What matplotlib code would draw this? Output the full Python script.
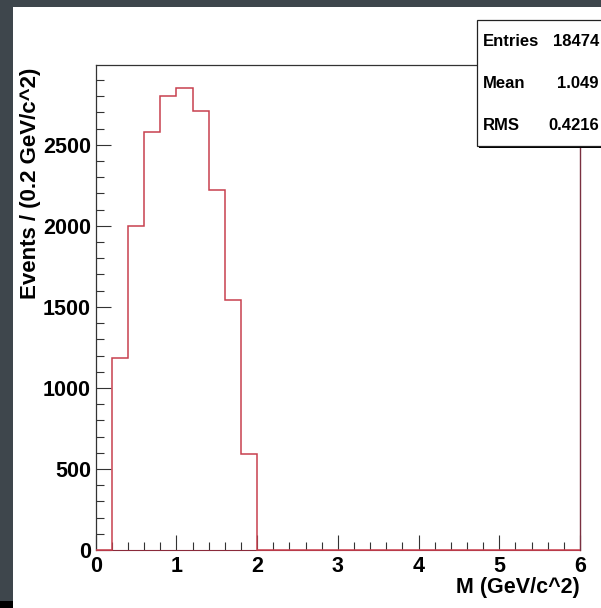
import matplotlib.pyplot as plt
from matplotlib.patches import Rectangle
from matplotlib.ticker import MultipleLocator

# histogram contents, 30 bins of 0.2 GeV/c^2 from 0 to 6
bin_edges = [round(0.2 * i, 1) for i in range(31)]
counts = [0, 1187, 2000, 2582, 2804, 2850, 2710, 2220, 1543, 593,
          0, 0, 0, 0, 0, 0, 0, 0, 0, 0,
          0, 0, 0, 0, 0, 0, 0, 0, 0, 0]
stat_names = ["Entries", "Mean", "RMS"]
stat_values = ["18474", "1.049", "0.4216"]

plt.rcParams['font.family'] = ['Liberation Sans', 'DejaVu Sans']
plt.rcParams['font.weight'] = 'bold'

W, H = 601, 608
fig = plt.figure(figsize=(W / 100, H / 100), dpi=100)
fig.patch.set_facecolor('#3e464c')

# white canvas and black corner
fig.add_artist(Rectangle((13 / W, 0), 1 - 13 / W, (H - 7) / H, transform=fig.transFigure,
                         facecolor='white', edgecolor='none', zorder=0))
fig.add_artist(Rectangle((0, 0), 13 / W, 7 / H, transform=fig.transFigure,
                         facecolor='black', edgecolor='none', zorder=0))

x0, x1, ytop, ybot = 95.7, 580, 65, 550
ax = fig.add_axes([x0 / W, 1 - ybot / H, (x1 - x0) / W, (ybot - ytop) / H])
ax.set_facecolor('white')

ax.stairs(counts, bin_edges, color='#c8404e', linewidth=1.1, baseline=0, zorder=3, clip_on=False)

ax.set_xlim(0, 6)
ax.set_ylim(0, 1.05 * max(counts))

ax.xaxis.set_major_locator(MultipleLocator(1))
ax.xaxis.set_minor_locator(MultipleLocator(0.2))
ax.yaxis.set_major_locator(MultipleLocator(500))
ax.yaxis.set_minor_locator(MultipleLocator(100))

ax.tick_params(which='both', direction='in', top=False, right=False, color='#333333', width=0.8)
ax.tick_params(which='major', length=10.5)
ax.tick_params(which='minor', length=5.5)
ax.tick_params(axis='x', which='major', pad=4.5, labelsize=15.5)
ax.tick_params(axis='y', which='major', pad=3.5, labelsize=15.5)
for lab in ax.get_xticklabels() + ax.get_yticklabels():
    lab.set_fontweight('bold')

for side in ['left', 'top']:
    ax.spines[side].set_color('#333333')
    ax.spines[side].set_linewidth(0.9)
ax.spines['bottom'].set_color('#8a2a3a')
ax.spines['right'].set_color('#7a3040')
ax.spines['right'].set_linewidth(1.0)

fig.text(31 / W, 1 - 68 / H, "Events / (0.2 GeV/c^2)", rotation=90, ha='center', va='top',
         fontsize=16, fontweight='bold')
fig.text(580 / W, 1 - 588 / H, "M (GeV/c^2)", ha='right', va='center',
         fontsize=15.5, fontweight='bold')

# stats box
bx0, bx1, by0, by1 = 477, 610, 20.5, 146
fig.add_artist(Rectangle(((bx0 + 2) / W, 1 - (by1 + 2) / H), (bx1 - bx0) / W, (by1 - by0) / H,
                         transform=fig.transFigure, facecolor='black', edgecolor='none', zorder=5))
fig.add_artist(Rectangle((bx0 / W, 1 - by1 / H), (bx1 - bx0) / W, (by1 - by0) / H,
                         transform=fig.transFigure, facecolor='white', edgecolor='#222222',
                         linewidth=0.9, zorder=6))
rows_y = [42, 83, 125]
for name, val, yy in zip(stat_names, stat_values, rows_y):
    fig.text(483 / W, 1 - yy / H, name, ha='left', va='center', fontsize=12, fontweight='bold', zorder=7)
    fig.text(599 / W, 1 - yy / H, val, ha='right', va='center', fontsize=12, fontweight='bold', zorder=7)

fig.savefig('out.png', dpi=100, facecolor=fig.get_facecolor())
